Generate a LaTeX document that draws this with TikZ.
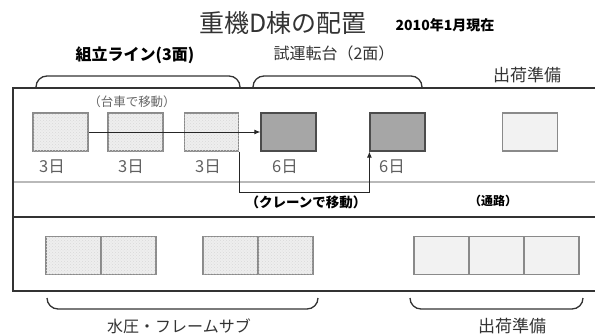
\documentclass[tikz,border=0pt]{standalone}
\usepackage{fontspec}
\setmainfont{Noto Sans CJK JP}
\usetikzlibrary{patterns,arrows.meta}
\definecolor{txt}{HTML}{333333}
\definecolor{boxline}{HTML}{8A8A8A}
\definecolor{darkfill}{HTML}{A6A6A6}
\definecolor{lightfill}{HTML}{F2F2F2}
\definecolor{hatchfill}{HTML}{EEEEEE}
\tikzset{
  lbl/.style={inner sep=0pt, text=txt},
  hbox/.style={draw=boxline, line width=1.2pt, fill=hatchfill,
    postaction={pattern=crosshatch dots, pattern color=gray!30},
    minimum width=55pt, minimum height=38pt, inner sep=0pt},
  dbox/.style={draw=gray!60!black, line width=1.2pt, fill=darkfill,
    minimum width=55pt, minimum height=38pt, inner sep=0pt},
  lbox/.style={draw=boxline, line width=1.2pt, fill=lightfill,
    minimum width=55pt, minimum height=38pt, inner sep=0pt},
  day/.style={lbl, text=gray!75!black, font=\fontsize{16.5}{18}\selectfont},
  brk/.style={draw=txt, line width=1.3pt, rounded corners=11pt},
  arr/.style={draw=black!85, line width=1pt, -{Latex[length=6pt,width=5pt]}},
}
\begin{document}
\begin{tikzpicture}[x=1pt,y=-1pt]
\useasboundingbox (0,0) rectangle (595,335);
% titles
\node[lbl, font=\fontsize{25}{28}\selectfont] (title) at (283,23) {重機D棟の配置};
\node[lbl, text=black, font=\bfseries\fontsize{14}{16}\selectfont] (date) at (445,25) {2010年1月現在};
\node[lbl, text=black, font=\bfseries\fontsize{16}{18}\selectfont] (t1) at (135,55) {組立ライン(3面)};
\node[lbl, font=\fontsize{16}{18}\selectfont] (t2) at (334,53) {試運転台（2面）};
\node[lbl, font=\fontsize{17}{19}\selectfont] (t3) at (527,75) {出荷準備};
% top brackets
\draw[brk] (36,88) -- (36,76) -- (240,76) -- (240,88);
\draw[brk] (253,88) -- (253,76) -- (422,76) -- (422,88);
% frame and road
\draw[line width=1.4pt, draw=black!80] (595,88) -- (13,88) -- (13,291) -- (595,291);
\draw[line width=2.5pt, draw=gray!55] (14,182) -- (595,182);
\draw[line width=1.4pt, draw=black!80] (14,217) -- (595,217);
% top row boxes
\node[hbox] (b1) at (60.5,132) {};
\node[hbox] (b2) at (135.5,132) {};
\node[hbox, minimum width=54pt] (b3) at (211.5,132) {};
\node[dbox] (b4) at (288.5,132) {};
\node[dbox] (b5) at (397.5,132) {};
\node[lbox] (b6) at (530,132) {};
\node[lbl, text=gray!80!black, font=\fontsize{12.5}{14}\selectfont] (cart) at (132,102) {（台車で移動）};
% day labels
\node[day] (d1) at (52,167) {3日};
\node[day] (d2) at (131,167) {3日};
\node[day] (d3) at (208,167) {3日};
\node[day] (d4) at (285,167) {6日};
\node[day] (d5) at (392,167) {6日};
% arrows
\draw[arr] (b1.east) -- (b4.west);
\draw[arr] (b3.south east) -- ++(0,41) -| (b5.south west);
\node[lbl, text=black, font=\bfseries\fontsize{13.5}{15}\selectfont] (crane) at (306,202) {（クレーンで移動）};
\node[lbl, text=black, font=\bfseries\fontsize{12}{14}\selectfont] (road) at (493,201) {（通路）};
% bottom boxes
\node[hbox] (g1a) at (73.5,255.5) {};
\node[hbox] (g1b) at (128.5,255.5) {};
\node[hbox] (g2a) at (230.5,255.5) {};
\node[hbox] (g2b) at (285.5,255.5) {};
\node[lbox] (g3a) at (441.5,255.5) {};
\node[lbox] (g3b) at (496.5,255.5) {};
\node[lbox] (g3c) at (551.5,255.5) {};
% bottom brackets
\draw[brk] (47,298) -- (47,309) -- (318,309) -- (318,298);
\draw[brk] (410,298) -- (410,309) -- (583,309) -- (583,298);
\node[lbl, font=\fontsize{16}{18}\selectfont] (sub) at (179,326) {水圧・フレームサブ};
\node[lbl, font=\fontsize{17}{19}\selectfont] (ship) at (512,326) {出荷準備};
\end{tikzpicture}
\end{document}
